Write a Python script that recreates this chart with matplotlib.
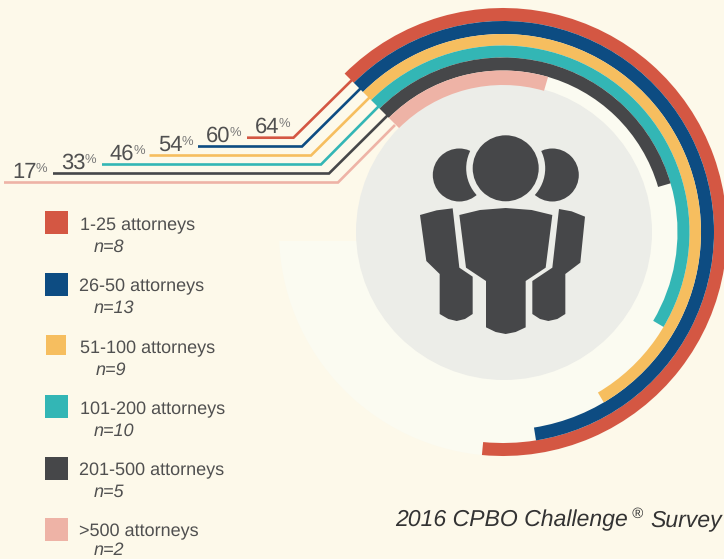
import matplotlib
matplotlib.use("Agg")
import matplotlib.pyplot as plt
from matplotlib.patches import Wedge, Circle, Polygon, Rectangle

categories = ["1-25 attorneys", "26-50 attorneys", "51-100 attorneys",
              "101-200 attorneys", "201-500 attorneys", ">500 attorneys"]
counts = [8, 13, 9, 10, 5, 2]
percent = [64, 60, 54, 46, 33, 17]
colors = ["#D45743", "#0D4C82", "#F6BE5F", "#33B6B5", "#464749", "#EEB3A6"]

BG = "#FDF9EA"
LIGHT = "#FBFBF1"
DISC = "#ECEDE8"
DARK = "#464749"
TEXT = "#505050"

plt.rcParams["font.family"] = ["Liberation Sans", "DejaVu Sans"]
plt.rcParams["text.hinting"] = "none"
plt.rcParams["text.hinting_factor"] = 1
fig = plt.figure(figsize=(7.24, 5.59), dpi=100, facecolor=BG)
ax = fig.add_axes([0, 0, 1, 1])
ax.set_xlim(0, 724)
ax.set_ylim(559, 0)
ax.axis("off")

cx, cy = 503, 232
outer = [224, 211, 198, 186.5, 174.5, 161.5]
inner = [211, 198, 186.5, 174.5, 161.5, 147]
start = 225

# pale backing circle, cut off flat on the left
light = Circle((cx, cy), 224, fc=LIGHT, ec="none", zorder=1)
ax.add_patch(light)
clip = Polygon([(504, 0), (724, 0), (724, 559), (200, 559), (200, 241), (504, 241)],
               closed=True, transform=ax.transData)
light.set_clip_path(clip)
ax.add_patch(Circle((504, 232), 148, fc=DISC, ec="none", zorder=2))

for p, c, ro, ri in zip(percent, colors, outer, inner):
    ax.add_patch(Wedge((cx, cy), ro, start, start + 360 * p / 100, width=ro - ri,
                       fc=c, ec="none", zorder=3))

# leader lines and percentage labels
line_x0 = [247, 198, 149.5, 102, 53, 4]
line_y = [137.7, 146.5, 155.5, 164.5, 173.5, 182.5]
elbow_x = [293.5, 302, 311, 321, 329, 338]
end_x = [353, 361, 370, 379, 388, 395]
end_y = [79, 88, 97, 106, 115, 125]
lab_x = [255, 206, 158, 110, 61, 12]
for i, p in enumerate(percent):
    ax.plot([line_x0[i], elbow_x[i], end_x[i]], [line_y[i], line_y[i], end_y[i]],
            color=colors[i], lw=1.9, solid_joinstyle="miter", solid_capstyle="butt", zorder=2.5)
    t = ax.text(lab_x[i], line_y[i] - 4.5, str(p), fontsize=16, color=TEXT,
                ha="left", va="baseline", zorder=5)
    ax.annotate("%", xy=(1, 0), xycoords=t, xytext=(-0.5, 7.5), textcoords="offset points",
                fontsize=9.5, color="#777777", ha="left", va="baseline", zorder=5)

# people icon, traced outline in zoomed pixel units
def icon(points):
    return [(400 + x / 3, 120 + y / 3) for x, y in points]

body_c = [(178, 285), (240, 270), (317, 264), (395, 270), (457, 285), (437, 443), (377, 483),
          (377, 622), (347, 636), (317, 642), (287, 636), (258, 622), (258, 483), (198, 443)]
body_l = [(60, 285), (110, 271), (158, 265), (178, 443), (218, 470), (218, 582), (195, 597),
          (170, 603), (145, 597), (119, 582), (119, 462), (79, 423)]
body_r = [(555, 290), (515, 274), (477, 267), (457, 443), (397, 483), (397, 582), (420, 597),
          (445, 603), (472, 597), (496, 582), (496, 462), (541, 428)]
ax.add_patch(Circle((459.3, 175), 26.5, fc=DARK, ec="none", zorder=4))
ax.add_patch(Circle((552.3, 175), 26.5, fc=DARK, ec="none", zorder=4))
ax.add_patch(Circle((505.7, 168.3), 39.5, fc=DISC, ec="none", zorder=4.1))
ax.add_patch(Circle((505.7, 168.3), 33, fc=DARK, ec="none", zorder=4.2))
for b in (body_c, body_l, body_r):
    ax.add_patch(Polygon(icon(b), closed=True, fc=DARK, ec="none", zorder=4))

# legend
box_x = [45, 45, 46, 45, 45, 45]
box_y = [211, 273, 335, 395, 457, 518]
box_s = [23, 23, 20, 23, 23, 23]
text_x = [80, 79, 80, 80, 79, 79]
text_y = [230, 291, 353, 414, 475, 536]
n_x = [94, 94, 96, 94, 94, 94]
n_y = [252, 313, 375, 436, 497, 555]
for i, cat in enumerate(categories):
    ax.add_patch(Rectangle((box_x[i], box_y[i]), box_s[i], box_s[i], fc=colors[i], ec="none"))
    ax.text(text_x[i], text_y[i], cat, fontsize=13.2, color=TEXT, va="baseline", ha="left")
    ax.text(n_x[i], n_y[i], f"n={counts[i]}", fontsize=13, style="italic", color=TEXT,
            va="baseline", ha="left")

# caption
title_color = "#333333"
ax.text(395, 526, "2016 CPBO Challenge", fontsize=16.9, style="italic", color=title_color,
        va="baseline", ha="left")
ax.text(632, 518, "\u00ae", fontsize=10.5, style="italic", color=title_color, va="baseline", ha="left")
ax.text(650, 526, "Survey", fontsize=16.5, style="italic", color=title_color,
        va="baseline", ha="left")

fig.savefig("out.png", dpi=100, facecolor=BG)
